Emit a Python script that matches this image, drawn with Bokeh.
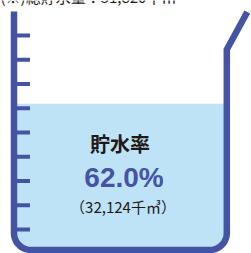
import numpy as np
from bokeh.plotting import figure
from bokeh.models import Range1d
from bokeh.core.properties import value
from bokeh.embed import file_html
from bokeh.resources import INLINE

# ---- data ----
rate_label = ["貯水率"]
rate_pct = [62.0]
stored_volume = ["32,124"]
volume_unit = ["千㎥"]
total_note = ["(※)総貯水量：51,820千㎥"]
tick_count = 9

WALL = "#4553a5"
WATER = "#bee3f7"
DARK = "#231815"

W, H = 251, 253
p = figure(width=W, height=H, output_backend="svg", toolbar_location=None,
           x_range=Range1d(0, W), y_range=Range1d(H, 0),
           min_border=0)
p.axis.visible = False
p.grid.visible = False
p.outline_line_color = None
p.background_fill_color = "white"
p.border_fill_color = "white"

# beaker geometry (pixel-like coordinates)
xl, xr = 13.5, 226.3
yb = 249.5
y_full, y_empty = 15.0, 247.0
R = 17.0

def arc(cx, cy, r, a0, a1, n=16):
    t = np.linspace(a0, a1, n)
    return cx + r * np.cos(t), cy + r * np.sin(t)

# water fill
level = y_empty - rate_pct[0] / 100.0 * (y_empty - y_full)
ax1, ay1 = arc(xr - R, yb - R, R, 0, np.pi / 2)
ax2, ay2 = arc(xl + R, yb - R, R, np.pi / 2, np.pi)
wx = np.concatenate([[xl, xr], ax1, ax2, [xl]])
wy = np.concatenate([[level, level], ay1, ay2, [level]])
p.patch(wx, wy, fill_color=WATER, line_color=None)

# beaker wall
bx = np.concatenate([[246.8, xr], ax1, ax2, [xl]])
by = np.concatenate([[11.5, 49.0], ay1, ay2, [11.0]])
p.line(bx, by, line_color=WALL, line_width=6.5, line_join="miter", line_cap="butt")

# graduation ticks
ty = 35.0 + 24.25 * np.arange(tick_count)
p.segment(x0=[xl] * tick_count, y0=ty, x1=[29.5] * tick_count, y1=ty,
          line_color=WALL, line_width=4, line_cap="butt")

# texts
p.text(x=[0], y=[-4.5], text=total_note, text_font=value("Noto Sans CJK JP"),
       text_font_size="15px", text_color=DARK, text_align="left",
       text_baseline="middle")
p.text(x=[119.5], y=[142.5], text=rate_label, text_font=value("Noto Sans CJK JP"),
       text_font_size="20px", text_font_style="bold", text_color=DARK,
       text_align="center", text_baseline="middle")
p.text(x=[123.5], y=[176.8], text=[f"{rate_pct[0]:.1f}%"],
       text_font=value("Liberation Sans"), text_font_size="28px",
       text_font_style="bold", text_color=WALL, text_align="center",
       text_baseline="middle")
p.text(x=[122.5], y=[205.5], text=[f"（{stored_volume[0]}{volume_unit[0]}）"],
       text_font=value("Noto Sans CJK JP"), text_font_size="15px",
       text_color=DARK, text_align="center", text_baseline="middle")

open("out.html", "w").write(file_html(p, INLINE))
